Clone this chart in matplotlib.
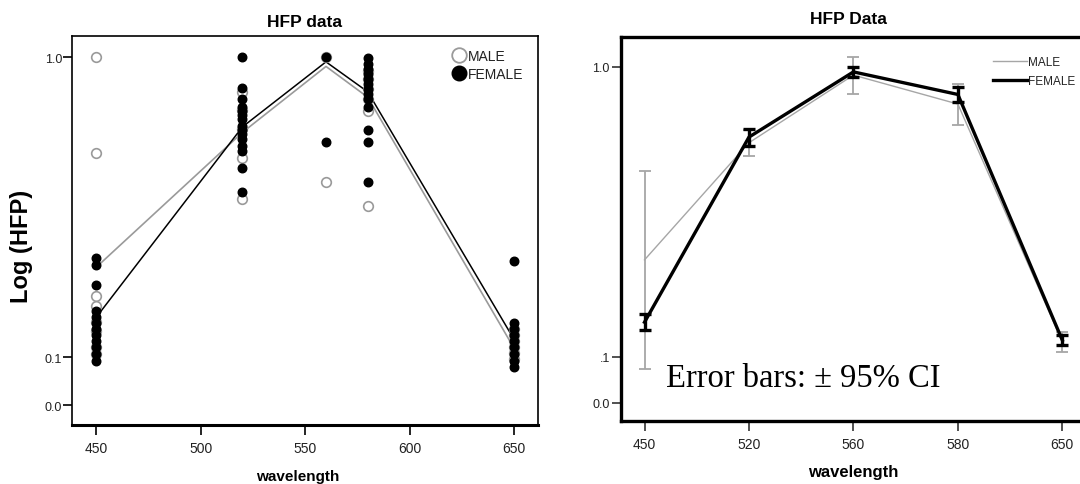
import matplotlib.pyplot as plt
from matplotlib.lines import Line2D
import numpy as np

plt.rcParams['font.family'] = ['Liberation Sans', 'DejaVu Sans']

wavelengths = [450, 520, 560, 580, 650]
wl_labels = ['450', '520', '560', '580', '650']

# individual HFP readings per wavelength (left panel)
male_pts = [
    [1.0, 0.653, 0.244, 0.219, 0.179, 0.160, 0.122, 0.107],
    [0.865, 0.800, 0.733, 0.635, 0.508],
    [1.0, 0.559],
    [0.946, 0.915, 0.878, 0.840, 0.798, 0.488],
    [0.164, 0.150, 0.136, 0.123, 0.109, 0.096],
]
female_pts = [
    [0.340, 0.322, 0.271, 0.206, 0.192, 0.178, 0.164, 0.150, 0.136, 0.123, 0.107, 0.092],
    [1.0, 0.880, 0.840, 0.810, 0.797, 0.783, 0.769, 0.744, 0.730, 0.717, 0.700, 0.677, 0.660, 0.603, 0.530],
    [1.0, 0.688],
    [0.997, 0.973, 0.954, 0.934, 0.915, 0.896, 0.878, 0.859, 0.840, 0.810, 0.731, 0.688, 0.559],
    [0.334, 0.178, 0.164, 0.150, 0.136, 0.123, 0.107, 0.092, 0.079],
]
male_mean_l = [0.316, 0.722, 0.964, 0.847, 0.120]
female_mean_l = [0.191, 0.741, 0.982, 0.867, 0.140]

# group means with 95% CI half-widths (right panel)
male_mean_r = [0.343, 0.710, 0.966, 0.852, 0.134]
male_ci_r = [0.270, 0.047, 0.075, 0.077, 0.023]
female_mean_r = [0.181, 0.730, 0.979, 0.889, 0.138]
female_ci_r = [0.019, 0.030, 0.019, 0.030, 0.012]

GRAY = '#9a9a9a'
TXT = '#222222'


# "safe" log axis: log10(1 + y)
def fwd(v):
    return np.log10(1 + np.asarray(v, dtype=float))


def inv(t):
    return 10 ** np.asarray(t, dtype=float) - 1


fig = plt.figure(figsize=(10.8, 4.85), dpi=100)

# ---- left: raw data ----
ax1 = fig.add_axes([0.0664, 0.1216, 0.4318, 0.8027])
ax1.set_yscale('function', functions=(fwd, inv))
ax1.plot(wavelengths, male_mean_l, color=GRAY, lw=1.2, zorder=2)
ax1.plot(wavelengths, female_mean_l, color='black', lw=1.1, zorder=2)
for wl, ys in zip(wavelengths, male_pts):
    ax1.scatter([wl] * len(ys), ys, s=48, facecolors='white', edgecolors=GRAY,
                linewidths=1.2, zorder=3)
for wl, ys in zip(wavelengths, female_pts):
    ax1.scatter([wl] * len(ys), ys, s=38, color='black', zorder=4)

ax1.set_xlim(438.3, 661.5)
ax1.set_ylim(-0.0389, 1.088)
ax1.set_xticks([450, 500, 550, 600, 650])
ax1.set_yticks([0.0, 0.1, 1.0])
ax1.set_yticklabels(['0.0', '0.1', '1.0'])
ax1.yaxis.set_minor_locator(plt.NullLocator())
ax1.tick_params(axis='x', length=7, width=1.2, pad=4.5, labelsize=10, labelcolor=TXT)
ax1.tick_params(axis='y', length=6.5, width=1.2, pad=0.5, labelsize=9, labelcolor=TXT)
for side in ['left', 'top', 'right']:
    ax1.spines[side].set_linewidth(1.2)
ax1.spines['bottom'].set_linewidth(2.2)

ax1.set_title('HFP data', fontsize=12.5, fontweight='bold', pad=7)
ax1.set_xlabel('wavelength', fontsize=11, fontweight='bold')
ax1.xaxis.set_label_coords(0.485, -0.113)
ax1.set_ylabel('Log (HFP)', fontsize=17, fontweight='bold')
ax1.yaxis.set_label_coords(-0.083, 0.462)

male_h = Line2D([], [], ls='none', marker='o', ms=10.5, mfc='white', mec=GRAY, mew=1.3)
female_h = Line2D([], [], ls='none', marker='o', ms=10.5, mfc='black', mec='black')
ax1.legend([male_h, female_h], ['MALE', 'FEMALE'], loc='upper left',
           bbox_to_anchor=(0.815, 0.965), frameon=False, handlelength=1.0,
           handletextpad=0.15, labelspacing=0.25, borderpad=0, borderaxespad=0,
           fontsize=10, labelcolor=TXT)

# ---- right: means with error bars ----
ax2 = fig.add_axes([0.575, 0.1289, 0.4304, 0.7922])
ax2.set_yscale('function', functions=(fwd, inv))
xpos = np.arange(len(wavelengths))
ax2.errorbar(xpos, male_mean_r, yerr=male_ci_r, color='#a6a6a6', lw=1.0,
             elinewidth=1.3, capsize=4, capthick=1.3, zorder=2)
ax2.errorbar(xpos, female_mean_r, yerr=female_ci_r, color='black', lw=2.4,
             elinewidth=2.4, capsize=4, capthick=2.4, zorder=3)

ax2.set_xlim(-0.225, 4.225)
ax2.set_ylim(-0.0376, 1.1255)
ax2.set_xticks(xpos)
ax2.set_xticklabels(wl_labels)
ax2.set_yticks([0.0, 0.1, 1.0])
ax2.set_yticklabels(['0.0', '.1', '1.0'])
ax2.yaxis.set_minor_locator(plt.NullLocator())
ax2.tick_params(axis='x', length=7, width=1.2, pad=4, labelsize=10, labelcolor=TXT, color='#333333')
ax2.tick_params(axis='y', length=6.5, width=1.2, pad=1.5, labelsize=9, labelcolor=TXT, color='#333333')
for side in ax2.spines:
    ax2.spines[side].set_linewidth(2.4)

ax2.set_title('HFP Data', fontsize=12.5, fontweight='bold', pad=10, x=0.489)
ax2.set_xlabel('wavelength', fontsize=12, fontweight='bold')
ax2.xaxis.set_label_coords(0.4998, -0.1106)

ax2.legend([Line2D([], [], color='#a6a6a6', lw=1.0), Line2D([], [], color='black', lw=2.4)],
           ['MALE', 'FEMALE'], loc='upper left', bbox_to_anchor=(0.80, 0.952),
           frameon=False, handlelength=2.9, handletextpad=0.05, labelspacing=0.6,
           borderpad=0, borderaxespad=0, fontsize=8.5, labelcolor=TXT)

fig.text(0.6167, 0.2027, 'Error bars: \u00b1 95% CI', fontsize=23.5,
         family=['Liberation Serif', 'DejaVu Serif'], va='baseline', ha='left')

fig.savefig('out.png', dpi=100)
